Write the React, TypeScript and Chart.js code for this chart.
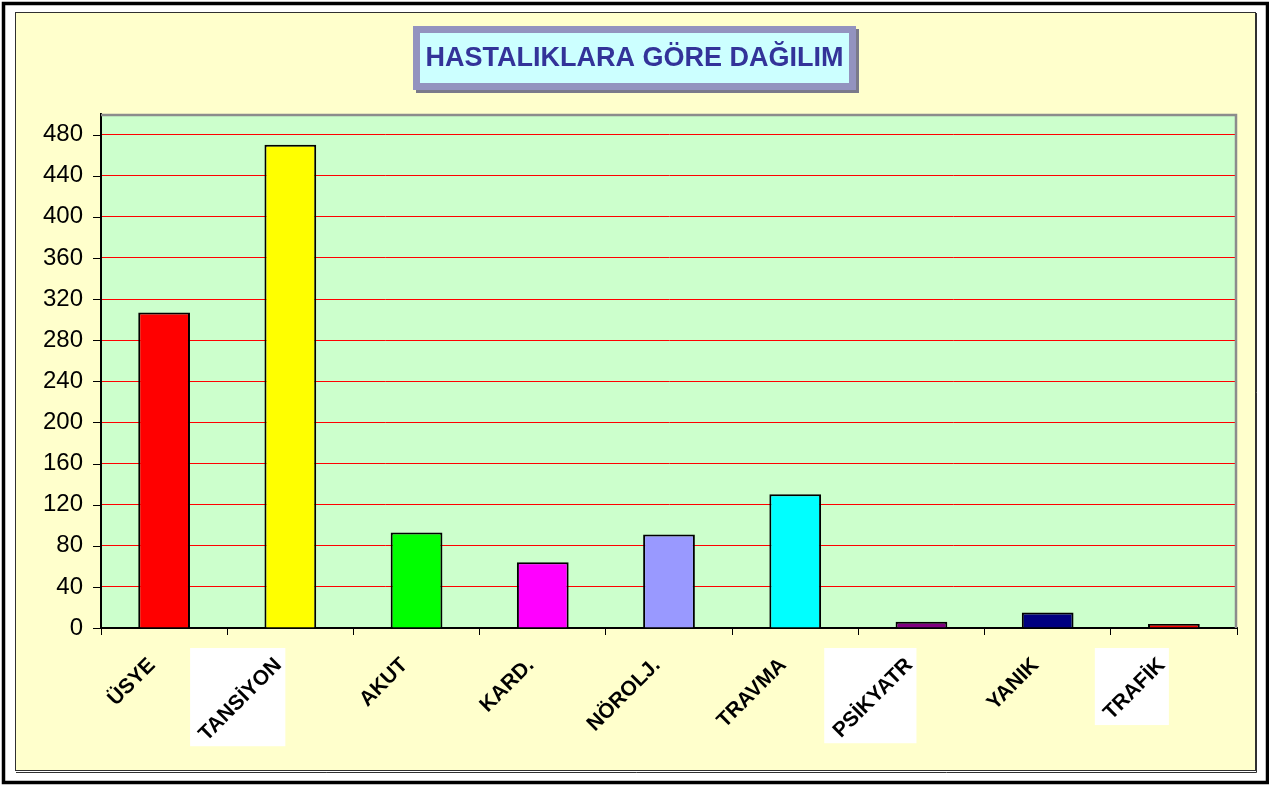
import React, { useEffect, useRef } from 'react';
import { Chart, registerables } from 'chart.js';

Chart.register(...registerables);

const categories = ['ÜSYE', 'TANSİYON', 'AKUT', 'KARD.', 'NÖROLJ.', 'TRAVMA', 'PSİKYATR', 'YANIK', 'TRAFİK'];
const values = [307, 470, 93, 64, 91, 130, 6, 15, 4];
const barColors = ['#FF0000', '#FFFF00', '#00FF00', '#FF00FF', '#9999FF', '#00FFFF', '#800080', '#000080', '#FF0000'];
const titleText = 'HASTALIKLARA GÖRE DAĞILIM';
const yTicks = [0, 40, 80, 120, 160, 200, 240, 280, 320, 360, 400, 440, 480];
const yMin = 0;
const yMax = 500;
const boxedLabels = ['TANSİYON', 'PSİKYATR', 'TRAFİK'];

const FONT = '"Liberation Sans", Arial, sans-serif';

const framePlugin = {
  id: 'frame',
  beforeDraw(chart: any) {
    const ctx = chart.ctx as CanvasRenderingContext2D;
    const W = chart.width;
    const H = chart.height;
    const { left, top, right, bottom } = chart.chartArea;
    ctx.save();
    ctx.fillStyle = '#FFFFFF';
    ctx.fillRect(0, 0, W, H);
    ctx.strokeStyle = '#000000';
    ctx.lineWidth = 3.5;
    ctx.strokeRect(3.5, 3.5, W - 5, H - 6);
    ctx.fillStyle = '#FFFFCC';
    ctx.fillRect(15, 12, 1241, 759);
    ctx.strokeStyle = '#303030';
    ctx.lineWidth = 1;
    ctx.strokeRect(15.5, 12.5, 1240, 758);
    ctx.beginPath();
    ctx.moveTo(1256.5, 13);
    ctx.lineTo(1256.5, 772.5);
    ctx.lineTo(16, 772.5);
    ctx.stroke();
    ctx.fillStyle = '#CCFFCC';
    ctx.fillRect(left, top, right - left, bottom - top);
    const xs = chart.scales.x;
    ctx.font = `bold 21px ${FONT}`;
    categories.forEach((c, i) => {
      if (!boxedLabels.includes(c)) return;
      const tw = ctx.measureText(c).width;
      const w = (tw + 15) / Math.SQRT2 + 9;
      const h = w + 3;
      const px = xs.getPixelForTick(i);
      ctx.fillStyle = '#FFFFFF';
      ctx.fillRect(px - 5 - w, bottom + 20, w, h);
    });
    ctx.restore();
  },
  beforeDatasetsDraw(chart: any) {
    const ctx = chart.ctx as CanvasRenderingContext2D;
    const { left, top, right, bottom } = chart.chartArea;
    ctx.save();
    ctx.strokeStyle = '#8C8C8C';
    ctx.lineWidth = 2.5;
    ctx.beginPath();
    ctx.moveTo(left, top + 1);
    ctx.lineTo(right - 1, top + 1);
    ctx.lineTo(right - 1, bottom);
    ctx.stroke();
    // black tick marks on the value axis
    const ys = chart.scales.y;
    ctx.strokeStyle = '#000000';
    ctx.lineWidth = 1;
    ys.ticks.forEach((t: any) => {
      const py = Math.round(ys.getPixelForValue(t.value)) + 0.5;
      ctx.beginPath();
      ctx.moveTo(left - 8, py);
      ctx.lineTo(left, py);
      ctx.stroke();
    });
    ctx.restore();
  },
  afterDraw(chart: any) {
    const ctx = chart.ctx as CanvasRenderingContext2D;
    ctx.save();
    const bx = 413, by = 26, bw = 443, bh = 64;
    ctx.fillStyle = '#7A7A8A';
    ctx.fillRect(bx + 3, by + 3, bw, bh);
    ctx.fillStyle = '#9393BF';
    ctx.fillRect(bx, by, bw, bh);
    ctx.fillStyle = '#CCFFFF';
    ctx.fillRect(bx + 7, by + 7, bw - 14, bh - 14);
    ctx.fillStyle = '#333399';
    ctx.font = `bold 27px ${FONT}`;
    ctx.textAlign = 'center';
    ctx.textBaseline = 'middle';
    ctx.fillText(titleText, bx + bw / 2, by + bh / 2 + 1);
    ctx.restore();
  },
};

export default function App() {
  const ref = useRef<HTMLCanvasElement | null>(null);
  useEffect(() => {
    if (!ref.current) return;
    const chart = new Chart(ref.current, {
      type: 'bar',
      data: {
        labels: categories,
        datasets: [
          {
            data: values,
            backgroundColor: barColors,
            borderColor: '#000000',
            borderWidth: 2,
            barPercentage: 0.41,
            categoryPercentage: 1,
          },
        ],
      },
      options: {
        responsive: false,
        animation: false,
        layout: { padding: { left: 20, right: 32, top: 114, bottom: 37 } },
        plugins: {
          legend: { display: false },
          title: { display: false },
          tooltip: { enabled: false },
        },
        scales: {
          x: {
            grid: { display: true, drawOnChartArea: false, offset: true, tickColor: '#000000', color: '#000000', tickLength: 7 },
            border: { color: '#000000', width: 2 },
            ticks: {
              autoSkip: false,
              minRotation: 45,
              maxRotation: 45,
              color: '#000000',
              padding: 18,
              labelOffset: -12,
              font: { family: FONT, size: 21, weight: 'bold' },
            },
            afterFit: (s: any) => {
              s.height = 120;
              s.paddingLeft = 0;
              s.paddingRight = 0;
            },
          },
          y: {
            min: yMin,
            max: yMax,
            ticks: {
              color: '#000000',
              padding: 18,
              font: { family: FONT, size: 24 },
            },
            afterBuildTicks: (s: any) => {
              s.ticks = yTicks.map((v) => ({ value: v }));
            },
            grid: { color: '#FF0000', lineWidth: 1, drawTicks: false },
            border: { color: '#000000', width: 2 },
            afterFit: (s: any) => {
              s.width = 81;
            },
          },
        },
      },
      plugins: [framePlugin],
    } as any);
    return () => chart.destroy();
  }, []);
  return (
    <div style={{ position: 'absolute', left: 0, top: 0, width: 1269, height: 785 }}>
      <canvas ref={ref} width={1269} height={785} style={{ display: 'block' }} />
    </div>
  );
}
